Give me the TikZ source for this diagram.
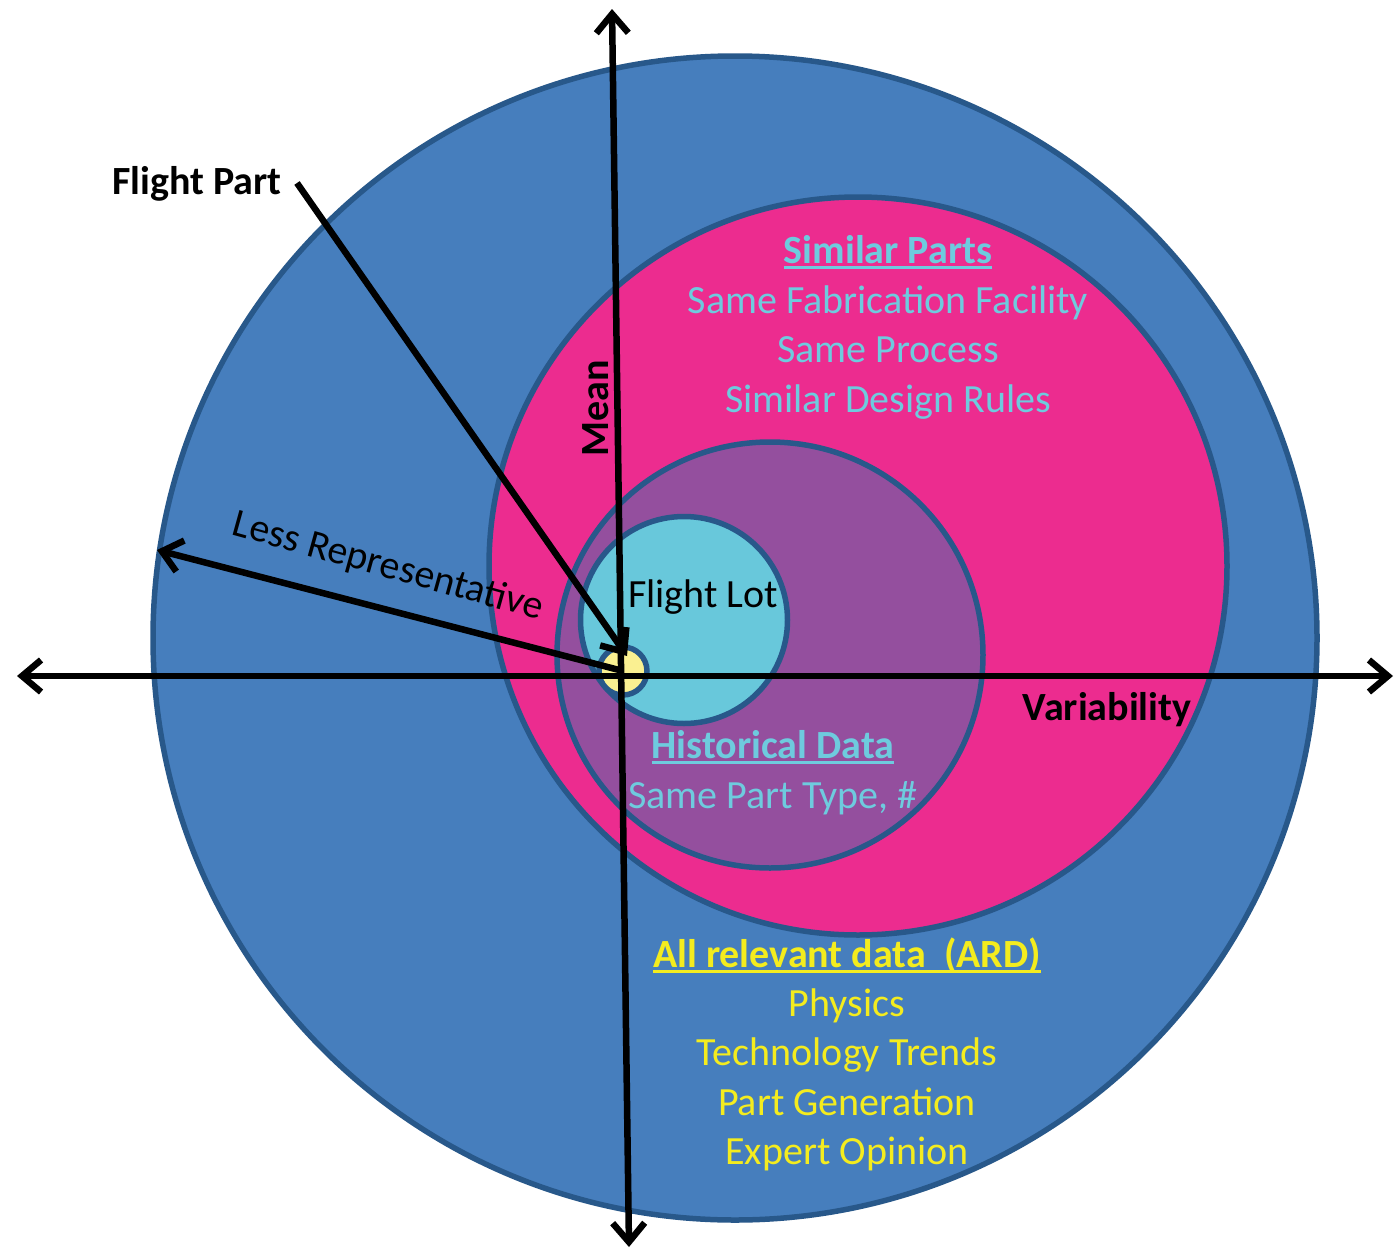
\documentclass[tikz,border=0pt]{standalone}
\usepackage{fontspec}
\setmainfont{Carlito}
\usetikzlibrary{arrows.meta}
\definecolor{ardblue}{RGB}{70,126,189}
\definecolor{edgeblue}{RGB}{40,88,138}
\definecolor{simpink}{RGB}{236,44,143}
\definecolor{histpurple}{RGB}{148,79,158}
\definecolor{lotcyan}{RGB}{104,200,219}
\definecolor{partyellow}{RGB}{250,240,145}
\definecolor{txtcyan}{RGB}{110,203,222}
\definecolor{txtyellow}{RGB}{244,236,30}
\newcommand\myul[1]{\setbox0\hbox{#1}\rlap{\rule[-6pt]{\wd0}{2.6pt}}\box0}
\begin{document}
\begin{tikzpicture}[x=1pt,y=-1pt,
  ring/.style={circle, inner sep=0pt, draw=edgeblue, line width=5.5pt},
  tip/.tip={Straight Barb[length=19pt,width=32pt,line width=6.5pt]},
  axis/.style={line width=6.5pt, black, tip-tip},
  pointer/.style={line width=6.5pt, black, -tip},
  lbl/.style={inner sep=0pt, anchor=base, font=\fontsize{40}{48}\selectfont},
  bl/.style={lbl, font=\fontsize{40}{48}\selectfont\bfseries}]
\useasboundingbox (0,0) rectangle (1395,1250);
% circles
\node[ring, fill=ardblue, minimum size=1164pt] (ard) at (735,638) {};
\node[ring, fill=simpink, minimum size=738pt] (sim) at (858,566) {};
\node[ring, fill=histpurple, minimum size=426pt] (hist) at (770,655) {};
\node[ring, fill=lotcyan, minimum size=207pt] (lot) at (684,620) {};
\node[ring, fill=partyellow, minimum size=48pt] (part) at (623,671) {};
% axis end points
\coordinate (ytop) at (612,9);
\coordinate (ybot) at (629,1247);
\coordinate (xleft) at (17,676);
\coordinate (xright) at (1393,676);
\coordinate (fpstart) at (297,183);
\coordinate (fpend) at (627,656);
\coordinate (lrend) at (157,550);
% axes and pointers
\draw[axis] (ybot) -- (ytop);
\draw[axis] (xleft) -- (xright);
\draw[pointer] (fpstart) -- (fpend);
\draw[pointer] (part.center) -- (lrend);
% labels
\node[bl] (fplabel) at (197,194) {Flight Part};
\node[lbl] (lotlabel) at (703,607) {Flight Lot};
\node[bl] (varlabel) at (1107,720) {Variability};
\node[inner sep=0pt, font=\fontsize{40}{48}\selectfont\bfseries, rotate=90] (meanlabel) at (596,408) {Mean};
\node[inner sep=0pt, font=\fontsize{40}{48}\selectfont, rotate=-15.5] (lrlabel) at (388,567) {Less Representative};
% similar parts
\node[bl, txtcyan] (s0) at (888,263) {\myul{Similar Parts}};
\node[lbl, txtcyan] (s1) at (888,313) {Same Fabrication Facility};
\node[lbl, txtcyan] (s2) at (888,362) {Same Process};
\node[lbl, txtcyan] (s3) at (888,412) {Similar Design Rules};
% historical data
\node[bl, txtcyan] (h0) at (773,758) {\myul{Historical Data}};
\node[lbl, txtcyan] (h1) at (773,808) {Same Part Type, \#};
% ARD
\node[bl, txtyellow] (a0) at (847,967) {\myul{All relevant data\ \ (ARD)}};
\node[lbl, txtyellow] (a1) at (847,1016) {Physics};
\node[lbl, txtyellow] (a2) at (847,1065) {Technology Trends};
\node[lbl, txtyellow] (a3) at (847,1115) {Part Generation};
\node[lbl, txtyellow] (a4) at (847,1164) {Expert Opinion};
\end{tikzpicture}
\end{document}
